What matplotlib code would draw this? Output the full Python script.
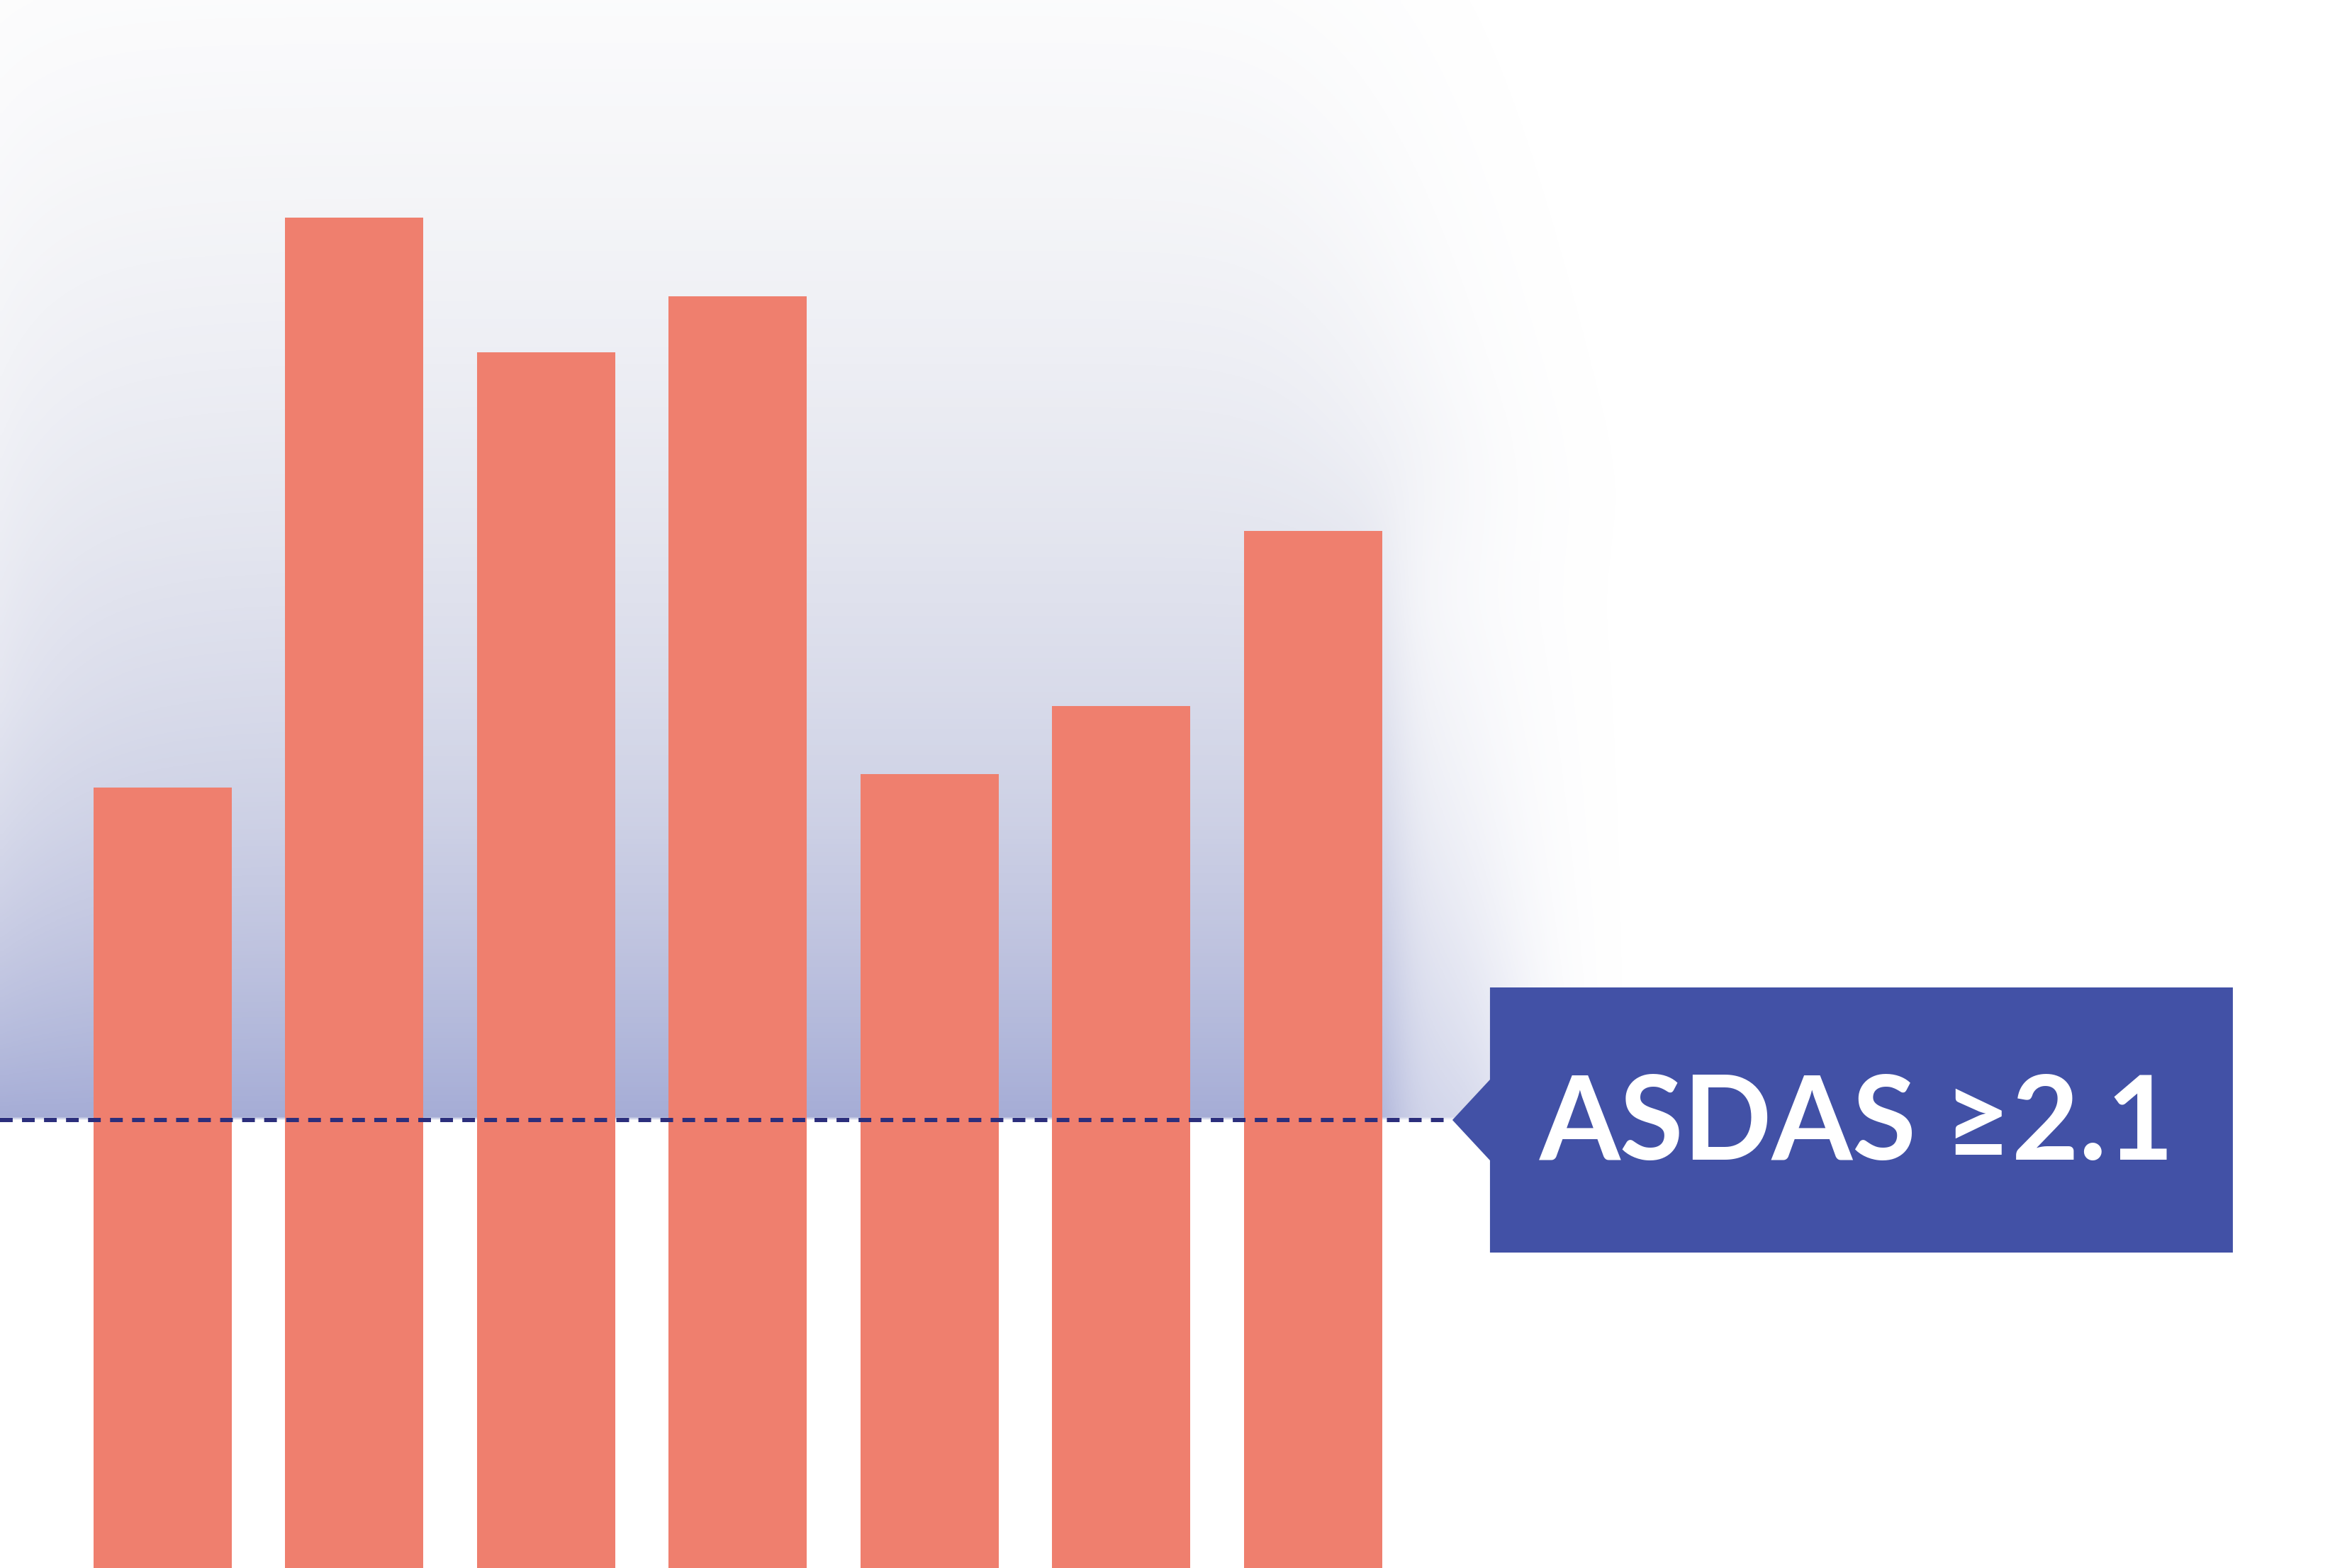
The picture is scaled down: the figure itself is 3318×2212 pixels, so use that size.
import math
import numpy as np
import matplotlib
matplotlib.use("Agg")
import matplotlib.pyplot as plt
from matplotlib.patches import Polygon

# ---- data ----
categories = ["1", "2", "3", "4", "5", "6", "7"]
values = [3.66, 6.33, 5.70, 5.96, 3.72, 4.04, 4.86]
threshold = 2.1
label_text = "ASDAS \u22652.1"

# ---- style ----
bar_color = "#EF7F6E"
box_color = "#4251A6"
line_color = "#2B2E7C"
glow_low = np.array([142, 151, 204]) / 255.0
glow_high = np.array([150, 155, 182]) / 255.0

W, H, DPI = 3318, 2212, 100
fig = plt.figure(figsize=(W / DPI, H / DPI), dpi=DPI)
ax = fig.add_axes([0, 0, 1, 1])
ax.axis("off")

xlim = (-0.848, 11.418)
ylim = (0.0, 7.35)
ax.set_xlim(*xlim)
ax.set_ylim(*ylim)
ppx = W / (xlim[1] - xlim[0])
ppy = H / (ylim[1] - ylim[0])

x = np.arange(len(values))
bw = 0.721

_erf = np.frompyfunc(math.erf, 1, 1)


def phi(z):
    return 0.5 * (1.0 + _erf(z / math.sqrt(2.0)).astype(float))


def smoothstep(z):
    z = np.clip(z, 0, 1)
    return z * z * (3 - 2 * z)


# ---- soft glow behind bars, above threshold ----
nx, ny = 664, 443
gx = np.linspace(xlim[0], xlim[1], nx)
gy = np.linspace(ylim[0], ylim[1], ny)
X, Y = np.meshgrid(gx, gy)
d = np.clip((Y - threshold) * ppy, 0, None)          # px above the line
dmax = (ylim[1] - threshold) * ppy
xp = (X - xlim[0]) * ppx
vert = 0.80 * np.exp(-d / 750.0) * (1 - 0.6 * (d / dmax) ** 4)
bar_right_px = (x[-1] + bw / 2 - xlim[0]) * ppx
last_top_px = (values[-1] - threshold) * ppy
w1 = 0.5 * (1 - smoothstep((d - (last_top_px - 130)) / 300.0))
xr1 = bar_right_px + 15
xr2 = bar_right_px + 200 - 180.0 * (d / 1180.0)
s2 = 60 + 70 * np.clip(d / 880.0, 0, 1)
horiz = w1 * phi((xr1 - xp) / 30.0) + (1 - w1) * phi((xr2 - xp) / s2)
left = 1 - 0.3 * np.exp(-xp / 100.0) * np.clip(d / 600.0, 0, 1)
alpha = np.where((Y - threshold) > 0, vert * horiz * left, 0.0)
t = (d / dmax)[..., None]
img = np.zeros((ny, nx, 4))
img[..., :3] = glow_low * (1 - t) + glow_high * t
img[..., 3] = np.clip(alpha, 0, 1)
ax.imshow(img, extent=(xlim[0], xlim[1], ylim[0], ylim[1]), origin="lower",
          aspect="auto", interpolation="bilinear", zorder=0)

# ---- bars ----
ax.bar(x, values, width=bw, color=bar_color, linewidth=0, zorder=2)

# ---- threshold line + label ----
bar_right = x[-1] + bw / 2
tip_x = bar_right + 0.366
box_left = tip_x + 53 / ppx
box_right = box_left + 1048 / ppx
hh = 187 / ppy
ah = 57 / ppy

ax.plot([xlim[0], tip_x], [threshold, threshold], color=line_color, lw=4.3,
        linestyle=(0, (3, 2.2)), dash_capstyle="butt", zorder=3)

poly = Polygon([(box_left, threshold + hh), (box_right, threshold + hh),
                (box_right, threshold - hh), (box_left, threshold - hh),
                (box_left, threshold - ah), (tip_x, threshold),
                (box_left, threshold + ah)], closed=True,
               facecolor=box_color, edgecolor="none", zorder=4)
ax.add_patch(poly)

ax.text((box_left + box_right) / 2 - 6 / ppx, threshold - 56 / ppy, label_text,
        ha="center", va="baseline", color="white", fontsize=118,
        family=["Lato", "DejaVu Sans"], fontweight="bold", zorder=5)

fig.savefig("out.png", dpi=DPI, facecolor="white")
